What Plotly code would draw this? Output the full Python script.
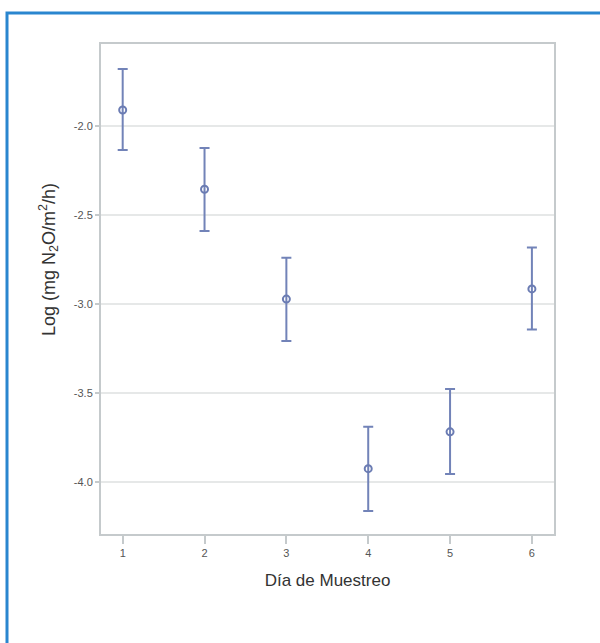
import plotly.graph_objects as go

dias = [1, 2, 3, 4, 5, 6]
media = [-1.91, -2.355, -2.972, -3.925, -3.718, -2.915]
err_sup = [0.23, 0.232, 0.232, 0.235, 0.24, 0.232]
err_inf = [0.225, 0.235, 0.235, 0.238, 0.237, 0.228]
y_ticks = [-2.0, -2.5, -3.0, -3.5, -4.0]
y_ticktext = ["-2.0", "-2.5", "-3.0", "-3.5", "-4.0"]

L, R, T, B = 101, 46, 44, 109
W, H = 600, 643
pw, ph = W - L - R, H - T - B

fig = go.Figure()
fig.add_trace(go.Scatter(
    x=dias, y=media, mode="markers",
    marker=dict(symbol="circle-open", size=7, color="#6b7cb3", line=dict(width=2, color="#6b7cb3")),
    error_y=dict(type="data", symmetric=False, array=err_sup, arrayminus=err_inf,
                 color="#7283b8", thickness=2, width=5),
    showlegend=False,
))

fig.update_layout(
    width=W, height=H,
    margin=dict(l=L, r=R, t=T, b=B),
    paper_bgcolor="white", plot_bgcolor="white",
    font=dict(family="Liberation Sans, Arial, sans-serif", color="#555"),
    xaxis=dict(range=[0.735, 6.27], tickvals=dias, ticks="outside", ticklen=8,
               tickcolor="#c5cacc", tickwidth=2, showgrid=False, zeroline=False,
               showline=True, linecolor="#c5cacc", linewidth=2, mirror=True,
               tickfont=dict(size=11, color="#555"),
               title=dict(text="Día de Muestreo", font=dict(size=17, color="#333"), standoff=16)),
    yaxis=dict(range=[-4.292, -1.539], tickvals=y_ticks, ticktext=y_ticktext,
               ticks="outside", ticklen=4, tickcolor="#c5cacc", tickwidth=2,
               showgrid=True, gridcolor="#e6e8e8", gridwidth=2, zeroline=False,
               showline=True, linecolor="#c5cacc", linewidth=2, mirror=True,
               tickfont=dict(size=11, color="#555")),
    annotations=[dict(text="Log (mg N<sub>2</sub>O/m<sup>2</sup>/h)", textangle=-90,
                      xref="paper", yref="paper", x=(48 - L) / pw, y=(H - B - 260) / ph,
                      xanchor="center", yanchor="middle", showarrow=False,
                      font=dict(size=18, color="#333"))],
    shapes=[dict(type="rect", xref="paper", yref="paper",
                 x0=(7 - L) / pw, x1=(620 - L) / pw,
                 y0=(H - B - 660) / ph, y1=(H - B - 13) / ph,
                 line=dict(color="#2a86cf", width=3), fillcolor="rgba(0,0,0,0)", layer="below")],
)

fig.write_html("out.html")
